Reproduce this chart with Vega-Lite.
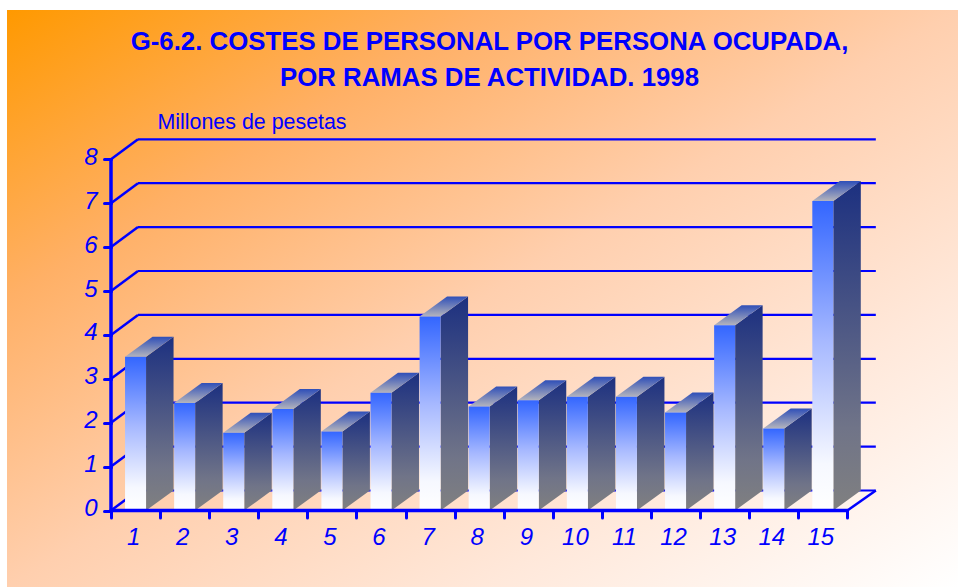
{
"$schema":"https://vega.github.io/schema/vega-lite/v6.json",
"width":951,"height":577,
"autosize":{"type":"none"},
"padding":{"left":7,"top":10,"right":0,"bottom":0},
"background":"#ffffff",
"config":{"scale":{"continuousPadding":0}},
"resolve":{"axis":{"x":"independent","y":"independent"}},
"view":{"stroke":null,"fill":{"gradient":"linear","x1":0,"y1":0,"x2":1,"y2":1,"stops":[{"offset":0,"color":"#ff9900"},{"offset":0.25,"color":"#ffb066"},{"offset":0.5,"color":"#ffcfae"},{"offset":0.75,"color":"#ffe8da"},{"offset":1,"color":"#ffffff"}]}},
"title":{"text":["G-6.2. COSTES DE PERSONAL POR PERSONA OCUPADA,","POR RAMAS DE ACTIVIDAD. 1998"],"font":"Liberation Sans","fontSize":25.8,"fontWeight":"bold","color":"#0000ff","lineHeight":36,"anchor":"middle","frame":"group","offset":-82,"dx":7},
"datasets":{
"bars":[{"rama":1,"coste":3.5},{"rama":2,"coste":2.45},{"rama":3,"coste":1.77},{"rama":4,"coste":2.31},{"rama":5,"coste":1.8},{"rama":6,"coste":2.68},{"rama":7,"coste":4.42},{"rama":8,"coste":2.37},{"rama":9,"coste":2.51},{"rama":10,"coste":2.59},{"rama":11,"coste":2.59},{"rama":12,"coste":2.23},{"rama":13,"coste":4.22},{"rama":14,"coste":1.87},{"rama":15,"coste":7.05}],
"ticks":[{"v":0},{"v":1},{"v":2},{"v":3},{"v":4},{"v":5},{"v":6},{"v":7},{"v":8}]
},
"layer":[
{"data":{"name":"ticks"},
"transform":[{"calculate":"datum.v+0.4556","as":"vb"}],
"mark":{"type":"rule","color":"#0000ff","strokeWidth":2.2},
"encoding":{
"x":{"datum":1.05,"type":"quantitative","scale":{"domain":[-1.6185,17.754],"nice":false,"zero":false},
"axis":{"values":[0.5,1.5,2.5,3.5,4.5,5.5,6.5,7.5,8.5,9.5,10.5,11.5,12.5,13.5,14.5,15.5],"labelExpr":"datum.value<1?'':format(datum.value-0.5,'d')","labelOffset":-27,"labelBound":false,"labelOverlap":false,"labelFlush":false,"offset":-76.5,"domain":false,"grid":false,"title":null,"tickColor":"#0000ff","tickWidth":3,"tickSize":7,"tickCap":"round","labelColor":"#0000ff","labelFont":"Liberation Sans","labelFontStyle":"italic","labelFontSize":24,"labelPadding":8}},
"x2":{"datum":16.08},
"y":{"field":"vb","type":"quantitative","scale":{"domain":[-1.7426,11.401],"nice":false,"zero":false},
"axis":{"values":[0,1,2,3,4,5,6,7,8],"format":"d","offset":-104,"domain":false,"grid":false,"title":"Millones de pesetas","titleAngle":0,"titleAlign":"left","titleBaseline":"alphabetic","titleX":46,"titleY":118,"titleFont":"Liberation Sans","titleFontSize":21.4,"titleFontWeight":"normal","titleColor":"#0000ff","tickColor":"#0000ff","tickWidth":3,"tickSize":7,"tickCap":"round","labelColor":"#0000ff","labelFont":"Liberation Sans","labelFontStyle":"italic","labelFontSize":24,"labelPadding":7,"labelOffset":-2}}
}},
{"data":{"name":"ticks"},
"transform":[{"calculate":"datum.v+0.4556","as":"vb"}],
"mark":{"type":"rule","color":"#0000ff","strokeWidth":2.5},
"encoding":{
"x":{"datum":0.5,"type":"quantitative","scale":{"domain":[-1.6185,17.754],"nice":false,"zero":false},"axis":null},
"x2":{"datum":1.05},
"y":{"field":"v","type":"quantitative","scale":{"domain":[-1.7426,11.401],"nice":false,"zero":false},"axis":null},
"y2":{"field":"vb"}
}},
{"data":{"name":"bars"},
"transform":[{"calculate":"[0,1]","as":"d"},{"flatten":["d"]},{"calculate":"datum.rama+0.214+datum.d*0.56","as":"xs"},{"calculate":"datum.d*0.4556","as":"ys0"},{"calculate":"datum.coste+datum.d*0.4556","as":"ys1"}],
"mark":{"type":"area","orient":"vertical","fill":{"gradient":"linear","x1":0,"y1":0,"x2":0,"y2":1,"stops":[{"offset":0,"color":"#1c3080"},{"offset":0.75,"color":"#707488"},{"offset":1,"color":"#808080"}]}},
"encoding":{
"x":{"field":"xs","type":"quantitative","scale":{"domain":[-1.6185,17.754],"nice":false,"zero":false},"axis":null},
"y":{"field":"ys1","type":"quantitative","stack":null,"scale":{"domain":[-1.7426,11.401],"nice":false,"zero":false},"axis":null},
"y2":{"field":"ys0"},
"detail":{"field":"rama"}
}},
{"data":{"name":"bars"},
"transform":[{"calculate":"[0,1]","as":"d"},{"flatten":["d"]},{"calculate":"datum.rama-0.214+datum.d*0.56","as":"xt0"},{"calculate":"datum.rama+0.214+datum.d*0.56","as":"xt1"},{"calculate":"datum.coste+datum.d*0.4556","as":"yt"}],
"mark":{"type":"area","orient":"horizontal","fill":{"gradient":"linear","x1":0,"y1":0,"x2":0,"y2":1,"stops":[{"offset":0,"color":"#2f4fb8"},{"offset":1,"color":"#b4b4bc"}]}},
"encoding":{
"y":{"field":"yt","type":"quantitative","scale":{"domain":[-1.7426,11.401],"nice":false,"zero":false},"axis":null},
"x":{"field":"xt0","type":"quantitative","stack":null,"scale":{"domain":[-1.6185,17.754],"nice":false,"zero":false},"axis":null},
"x2":{"field":"xt1"},
"detail":{"field":"rama"}
}},
{"data":{"name":"bars"},
"mark":{"type":"bar","size":21,"fill":{"gradient":"linear","x1":0,"y1":0,"x2":0,"y2":1,"stops":[{"offset":0,"color":"#3366ff"},{"offset":0.45,"color":"#a6b8ff"},{"offset":0.85,"color":"#f6f8ff"},{"offset":1,"color":"#ffffff"}]}},
"encoding":{
"x":{"field":"rama","type":"quantitative","scale":{"domain":[-1.6185,17.754],"nice":false,"zero":false},"axis":null},
"y":{"field":"coste","type":"quantitative","stack":null,"scale":{"domain":[-1.7426,11.401],"nice":false,"zero":false},"axis":null},
"y2":{"datum":0}
}},
{"data":{"name":"ticks"},
"transform":[{"filter":"datum.v==0"}],
"mark":{"type":"rule","color":"#0000ff","strokeWidth":3.5,"strokeCap":"round"},
"encoding":{
"x":{"datum":0.5,"type":"quantitative","scale":{"domain":[-1.6185,17.754],"nice":false,"zero":false},"axis":null},
"x2":{"datum":15.5},
"y":{"field":"v","type":"quantitative","scale":{"domain":[-1.7426,11.401],"nice":false,"zero":false},"axis":null}
}},
{"data":{"name":"ticks"},
"transform":[{"filter":"datum.v==0"}],
"mark":{"type":"rule","color":"#0000ff","strokeWidth":3.5},
"encoding":{
"x":{"datum":0.5,"type":"quantitative","scale":{"domain":[-1.6185,17.754],"nice":false,"zero":false},"axis":null},
"y":{"datum":0,"type":"quantitative","scale":{"domain":[-1.7426,11.401],"nice":false,"zero":false},"axis":null},
"y2":{"datum":8}
}},
{"data":{"name":"ticks"},
"transform":[{"filter":"datum.v==0"}],
"mark":{"type":"rule","color":"#0000ff","strokeWidth":2.5},
"encoding":{
"x":{"datum":15.5,"type":"quantitative","scale":{"domain":[-1.6185,17.754],"nice":false,"zero":false},"axis":null},
"x2":{"datum":16.08},
"y":{"datum":0,"type":"quantitative","scale":{"domain":[-1.7426,11.401],"nice":false,"zero":false},"axis":null},
"y2":{"datum":0.4556}
}}
]
}
